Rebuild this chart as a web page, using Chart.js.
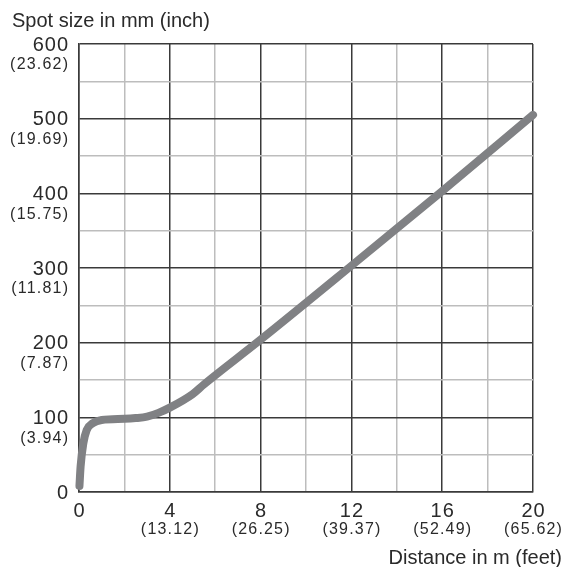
<!DOCTYPE html>
<html>
<head>
<meta charset="utf-8">
<script src="https://cdn.jsdelivr.net/npm/chart.js@4/dist/chart.umd.min.js"></script>
<style>
html,body{margin:0;padding:0;background:#fff;}
#wrap{width:564px;height:567px;position:relative;}
</style>
</head>
<body>
<div id="wrap"><canvas id="c"></canvas></div>
<script>
const distances = [0.02, 0.07, 0.19, 0.34, 0.6, 1, 2, 2.5, 3, 3.5, 4, 5, 5.5, 8, 12, 16, 20];
const spotSizes = [8, 34, 65, 83, 92, 96.5, 98, 99, 101, 106, 113, 131, 144, 204, 303, 403, 505];

const xTicks = [0, 4, 8, 12, 16, 20];
const xTickFeet = ['', '(13.12)', '(26.25)', '(39.37)', '(52.49)', '(65.62)'];
const yTicks = [0, 100, 200, 300, 400, 500, 600];
const yTickInch = ['', '(3.94)', '(7.87)', '(11.81)', '(15.75)', '(19.69)', '(23.62)'];

const yTitle = 'Spot size in mm (inch)';
const xTitle = 'Distance in m (feet)';

const textColor = '#2a2a2a';
const majorGrid = '#3a3a3a';
const minorGrid = '#bdbdbd';
const numFont = '"Liberation Sans", Arial, sans-serif';

const labelPlugin = {
  id: 'labels',
  afterDraw(chart) {
    const ctx = chart.ctx;
    const xs = chart.scales.x, ys = chart.scales.y;
    ctx.save();
    ctx.fillStyle = textColor;
    ctx.textAlign = 'right';
    ctx.textBaseline = 'middle';
    yTicks.forEach((v, i) => {
      const py = ys.getPixelForValue(v);
      ctx.font = '20px ' + numFont;
      ctx.letterSpacing = '1px';
      ctx.fillText(String(v), 69, py + 1);
      if (yTickInch[i]) {
        ctx.font = '16px ' + numFont;
        ctx.letterSpacing = '1.2px';
        ctx.fillText(yTickInch[i], 69.2, py + 21);
      }
    });
    ctx.textAlign = 'center';
    xTicks.forEach((v, i) => {
      const px = xs.getPixelForValue(v);
      ctx.font = '20px ' + numFont;
      ctx.letterSpacing = '1px';
      ctx.fillText(String(v), px + 0.5, 511);
      if (xTickFeet[i]) {
        ctx.font = '16px ' + numFont;
        ctx.letterSpacing = '1.2px';
        ctx.fillText(xTickFeet[i], px + 0.6, 530);
      }
    });
    ctx.letterSpacing = '0px';
    ctx.font = '20px ' + numFont;
    ctx.textBaseline = 'alphabetic';
    ctx.textAlign = 'left';
    ctx.fillText(yTitle, 12, 27);
    ctx.textAlign = 'right';
    ctx.fillText(xTitle, 562, 564);
    ctx.restore();
  }
};

new Chart(document.getElementById('c'), {
  type: 'line',
  data: {
    datasets: [{
      data: distances.map((d, i) => ({x: d, y: spotSizes[i]})),
      borderColor: '#808184',
      borderWidth: 8,
      borderCapStyle: 'round',
      borderJoinStyle: 'round',
      pointRadius: 0,
      cubicInterpolationMode: 'monotone',
      fill: false,
      clip: false
    }]
  },
  options: {
    responsive: true,
    maintainAspectRatio: false,
    animation: false,
    devicePixelRatio: 1,
    layout: {padding: {left: 79, right: 31, top: 44, bottom: 75}},
    plugins: {legend: {display: false}, tooltip: {enabled: false}, title: {display: false}},
    scales: {
      x: {
        type: 'linear', min: 0, max: 20,
        ticks: {stepSize: 2, display: false},
        border: {display: true, color: majorGrid, width: 1.5},
        grid: {
          drawTicks: false,
          color: c => (c.tick && c.tick.value % 4 === 0) ? majorGrid : minorGrid,
          lineWidth: 1.5
        }
      },
      y: {
        type: 'linear', min: 0, max: 600,
        ticks: {stepSize: 50, display: false},
        border: {display: true, color: majorGrid, width: 1.5},
        grid: {
          drawTicks: false,
          color: c => (c.tick && c.tick.value % 100 === 0) ? majorGrid : minorGrid,
          lineWidth: 1.5
        }
      }
    }
  },
  plugins: [labelPlugin]
});
</script>
</body>
</html>
